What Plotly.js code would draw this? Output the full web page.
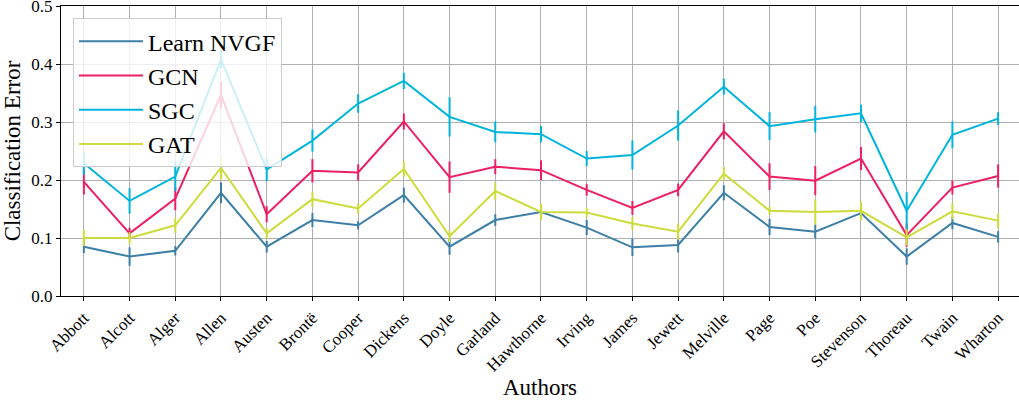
<!DOCTYPE html>
<html>
<head>
<meta charset="utf-8">
<script src="https://cdn.plot.ly/plotly-3.0.1.min.js"></script>
<style>html,body{margin:0;padding:0;background:#fff;}#chart{width:1019px;height:400px;}</style>
</head>
<body>
<div id="chart"></div>
<script>
const authors = ["Abbott","Alcott","Alger","Allen","Austen","Brontë","Cooper","Dickens","Doyle","Garland","Hawthorne","Irving","James","Jewett","Melville","Page","Poe","Stevenson","Thoreau","Twain","Wharton"];

const nvgfMean = [0.085,0.068,0.078,0.178,0.085,0.131,0.122,0.174,0.085,0.131,0.145,0.118,0.084,0.088,0.178,0.119,0.111,0.143,0.068,0.126,0.102];
const nvgfErr  = [0.011,0.016,0.008,0.018,0.010,0.012,0.007,0.013,0.014,0.010,0.013,0.013,0.015,0.013,0.013,0.014,0.012,0.010,0.014,0.011,0.010];

const gcnMean = [0.197,0.108,0.168,0.347,0.141,0.216,0.213,0.301,0.205,0.223,0.217,0.183,0.152,0.183,0.284,0.206,0.199,0.237,0.105,0.187,0.207];
const gcnErr  = [0.022,0.010,0.020,0.023,0.014,0.020,0.014,0.014,0.027,0.013,0.017,0.010,0.012,0.011,0.014,0.023,0.025,0.020,0.020,0.012,0.020];

const sgcMean = [0.229,0.164,0.206,0.408,0.218,0.268,0.332,0.371,0.309,0.283,0.279,0.237,0.243,0.294,0.361,0.293,0.305,0.315,0.147,0.278,0.306];
const sgcErr  = [0.020,0.022,0.025,0.015,0.020,0.019,0.016,0.014,0.034,0.018,0.014,0.013,0.025,0.026,0.014,0.024,0.023,0.015,0.032,0.023,0.011];

const gatMean = [0.100,0.100,0.122,0.221,0.108,0.167,0.151,0.219,0.103,0.181,0.145,0.144,0.125,0.111,0.211,0.147,0.145,0.147,0.101,0.146,0.130];
const gatErr  = [0.014,0.010,0.013,0.020,0.009,0.013,0.009,0.013,0.010,0.015,0.014,0.008,0.011,0.014,0.012,0.007,0.022,0.016,0.014,0.014,0.013];

const yTicks = [0.0,0.1,0.2,0.3,0.4,0.5];
const yTickText = ["0.0","0.1","0.2","0.3","0.4","0.5"];

const seriesNames = ["Learn NVGF","GCN","SGC","GAT"];
const colors = ["#3d7fa6","#ee1f60","#00b4dd","#cbdc3c"];
const means = [nvgfMean,gcnMean,sgcMean,gatMean];
const errs = [nvgfErr,gcnErr,sgcErr,gatErr];

const FONT = "Liberation Serif, DejaVu Serif, serif";

const traces = seriesNames.map((n,i)=>({
  type:"scatter", mode:"lines", name:n,
  x: authors, y: means[i],
  line:{color:colors[i], width:2},
  error_y:{type:"data", array:errs[i], visible:true, color:colors[i], thickness:2, width:0}
}));

const layout = {
  width:1019, height:400,
  margin:{l:61, r:0, t:6, b:104},
  paper_bgcolor:"#fff", plot_bgcolor:"#fff",
  font:{family:FONT, color:"#000"},
  showlegend:true,
  legend:{x:0.0125, y:0.958, xanchor:"left", yanchor:"top",
    bgcolor:"rgba(255,255,255,0.8)", bordercolor:"#cccccc", borderwidth:1,
    font:{family:FONT, size:24, color:"#000"}, itemwidth:64},
  xaxis:{
    type:"category", range:[-0.5, 20.457],
    showgrid:true, gridcolor:"#b0b0b0", gridwidth:1,
    showline:true, linecolor:"#000", linewidth:1.2, mirror:true,
    ticks:"outside", ticklen:4, tickcolor:"#000",
    tickangle:-45, tickfont:{family:FONT, size:17},
    title:{text:"Authors", font:{family:FONT, size:23}, standoff:8},
    zeroline:false
  },
  yaxis:{
    range:[0,0.5002], tickmode:"array", tickvals:yTicks, ticktext:yTickText,
    ticklabeloverflow:"allow",
    showgrid:true, gridcolor:"#b0b0b0", gridwidth:1,
    showline:true, linecolor:"#000", linewidth:1.2, mirror:false,
    ticks:"outside", ticklen:4, tickcolor:"#000",
    tickfont:{family:FONT, size:17},
    title:{text:"Classification Error", font:{family:FONT, size:23}, standoff:6},
    zeroline:false
  }
};

Plotly.newPlot("chart", traces, layout, {displayModeBar:false, staticPlot:true});
</script>
</body>
</html>
